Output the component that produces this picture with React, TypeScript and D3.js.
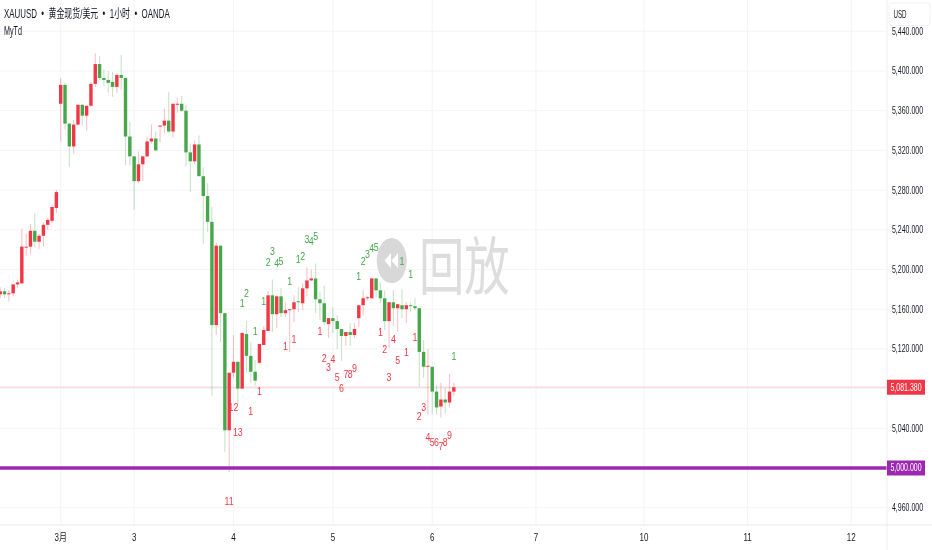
import React from "react";
import * as d3 from "d3";

const W = 932, H = 550;
const opens = [5175,5178,5175,5176,5185,5186,5222,5223,5239,5228,5234,5245,5249,5262,5367,5386,5347,5324,5346,5366,5355,5365,5387,5407,5393,5391,5389,5384,5396,5393,5334,5314,5289,5306,5314,5329,5332,5344,5345,5350,5339,5366,5367,5360,5318,5309,5326,5294,5274,5248,5144,5224,5156,5038,5096,5107,5080,5135,5113,5097,5106,5124,5138,5174,5155,5173,5156,5159,5160,5168,5166,5181,5189,5191,5170,5166,5145,5151,5148,5140,5133,5137,5134,5151,5164,5171,5171,5191,5179,5171,5148,5167,5161,5164,5160,5164,5163,5161,5117,5102,5102,5077,5062,5069,5066,5077];
const highs = [5182,5181,5179,5185,5190,5241,5236,5246,5257,5236,5247,5252,5265,5280,5393,5388,5347,5351,5366,5366,5365,5389,5418,5415,5402,5400,5399,5398,5416,5393,5349,5314,5319,5314,5334,5346,5339,5345,5362,5379,5367,5373,5375,5366,5327,5330,5335,5303,5287,5263,5227,5224,5156,5096,5134,5107,5137,5148,5127,5109,5125,5143,5178,5190,5174,5181,5167,5160,5174,5182,5186,5202,5200,5206,5177,5184,5151,5162,5154,5140,5137,5146,5146,5164,5179,5173,5191,5191,5187,5179,5167,5179,5165,5180,5167,5167,5171,5161,5129,5120,5102,5084,5086,5081,5095,5086];
const lows = [5171,5171,5168,5173,5182,5186,5214,5215,5222,5221,5223,5240,5247,5257,5329,5341,5303,5317,5345,5345,5340,5364,5384,5391,5385,5378,5374,5378,5381,5305,5305,5260,5287,5289,5313,5327,5319,5328,5337,5338,5333,5358,5359,5304,5278,5306,5294,5226,5238,5073,5134,5127,5016,4996,5091,5065,5080,5096,5086,5083,5105,5124,5138,5137,5141,5152,5152,5117,5147,5157,5159,5173,5188,5156,5149,5144,5131,5136,5120,5108,5123,5123,5131,5142,5154,5169,5171,5172,5166,5139,5121,5143,5137,5151,5146,5157,5159,5082,5091,5054,5054,5054,5051,5055,5061,5072];
const closes = [5178,5175,5176,5185,5187,5223,5223,5239,5228,5234,5245,5250,5263,5278,5386,5347,5324,5346,5366,5355,5365,5387,5407,5393,5391,5388,5384,5396,5393,5334,5314,5289,5306,5314,5329,5332,5320,5345,5350,5339,5367,5367,5360,5318,5309,5326,5294,5274,5248,5144,5224,5156,5038,5096,5107,5080,5136,5113,5097,5088,5125,5139,5174,5155,5173,5156,5159,5160,5167,5167,5181,5189,5191,5170,5166,5147,5151,5148,5140,5133,5137,5134,5140,5164,5171,5172,5191,5179,5171,5148,5167,5161,5165,5160,5164,5163,5161,5117,5102,5103,5077,5061,5069,5066,5077,5081.38];

const greenLabels: [number, number, string][] = [[56,5166,"1"],[57,5176,"2"],[61,5168,"1"],[59,5138,"1"],[62,5207,"2"],[63,5219,"3"],[64,5206,"4"],[65,5208,"5"],[67,5188,"1"],[69,5210,"1"],[70,5213,"2"],[71,5231,"3"],[72,5229,"4"],[73,5234,"5"],[83,5193,"1"],[84,5208,"2"],[85,5215,"3"],[86,5222,"4"],[87,5223,"5"],[93,5208,"1"],[95,5195,"1"],[105,5113,"1"]];
const redLabels: [number, number, string][] = [[66,5123,"1"],[68,5130,"1"],[74,5138,"1"],[75,5111,"2"],[76,5102,"3"],[77,5110,"4"],[78,5092,"5"],[79,5080,"6"],[80,5095,"7"],[81,5095,"8"],[82,5101,"9"],[88,5137,"1"],[89,5120,"2"],[90,5092,"3"],[91,5130,"4"],[92,5109,"5"],[94,5117,"1"],[96,5132,"1"],[97,5052,"2"],[98,5061,"3"],[99,5031,"4"],[100,5026,"5"],[101,5026,"6"],[102,5022,"7"],[103,5026,"8"],[104,5033,"9"],[60,5077,"1"],[58,5057,"1"],[54,5061,"12"],[55,5036,"13"],[53,4967,"11"]];

const priceTicks = [5440,5400,5360,5320,5280,5240,5200,5160,5120,5040,4960];
const allGridPrices = [5440,5400,5360,5320,5280,5240,5200,5160,5120,5080,5040,5000,4960];
const timeTickBars = [14,31,54,77,100,124,149,173,197];
const timeTickLabels = ["3月","3","4","5","6","7","10","11","12"];
const titleText = "XAUUSD\u00A0\u00A0•\u00A0\u00A0黄金现货/美元\u00A0\u00A0•\u00A0\u00A01小时\u00A0\u00A0•\u00A0\u00A0OANDA";
const lastPrice = 5081.38;
const levelPrice = 5000;

const UP = "#f23645", DOWN = "#46a74b", PURPLE = "#9c27b0", INK = "#131722";
const FONT = "'Liberation Sans','Noto Sans CJK SC',sans-serif";
const fmt = d3.format(",.3f");

const x = d3.scaleLinear().domain([0, 197]).range([0.22, 851.3]);
const y = d3.scaleLinear().domain([5000, 5440]).range([468, 31.3]);
const AXIS_X = 887, PANE_B = 525, BODY_W = 3.4;

function Txt({ px, py, size, sx = 0.7, anchor = "middle", fill = INK, children }: any) {
  return (
    <text transform={`translate(${px},${py}) scale(${sx},1)`} fontSize={size} fill={fill} textAnchor={anchor}
      dominantBaseline="central" fontFamily={FONT}>{children}</text>
  );
}

export default function App() {
  const n = d3.range(opens.length);
  return (
    <svg width={W} height={H} style={{ position: "fixed", left: 0, top: 0, filter: "blur(0.3px)", background: "#fff" }}>
      <rect width={W} height={H} fill="#fff" />
      {allGridPrices.map((p) => <line key={p} x1={0} x2={AXIS_X} y1={y(p)} y2={y(p)} stroke="#f4f4f5" />)}
      {timeTickBars.map((b) => <line key={b} x1={x(b)} x2={x(b)} y1={0} y2={PANE_B} stroke="#f4f4f5" />)}

      <ellipse cx={391.7} cy={260.7} rx={15} ry={22.6} fill="#d8d8d8" />
      <path d="M391 253 L384.5 260.7 L391 268 Z M398 253 L391.5 260.7 L398 268 Z" fill="#fff" />
      <text transform="translate(419,289) scale(0.72,1)" fontSize={63} fill="#dddddd" fontFamily="'Noto Sans CJK SC',sans-serif">回放</text>

      <line x1={0} x2={AXIS_X} y1={y(lastPrice)} y2={y(lastPrice)} stroke="#f8c9cd" />

      {n.map((i) => {
        const up = closes[i] >= opens[i];
        const c = up ? UP : DOWN;
        const top = y(Math.max(opens[i], closes[i]));
        const bot = y(Math.min(opens[i], closes[i]));
        return (
          <g key={i}>
            <line x1={x(i)} x2={x(i)} y1={y(highs[i])} y2={y(lows[i])} stroke={c} strokeOpacity={0.3} strokeWidth={1.1} />
            <rect x={x(i) - BODY_W / 2} y={top} width={BODY_W} height={Math.max(bot - top, 1)} fill={c} />
          </g>
        );
      })}

      <line x1={0} x2={AXIS_X} y1={y(levelPrice)} y2={y(levelPrice)} stroke={PURPLE} strokeWidth={3.6} />

      {greenLabels.map(([b, p, t], k) => <Txt key={k} px={x(b)} py={y(p)} size={11} sx={0.8} fill={DOWN}>{t}</Txt>)}
      {redLabels.map(([b, p, t], k) => <Txt key={k} px={x(b)} py={y(p)} size={11} sx={0.8} fill={UP}>{t}</Txt>)}

      <line x1={AXIS_X} x2={AXIS_X} y1={0} y2={H} stroke="#eeeff1" />
      <line x1={0} x2={W} y1={PANE_B} y2={PANE_B} stroke="#e8e9ec" />

      <Txt px={4} py={14} size={12} sx={0.66} anchor="start">{titleText}</Txt>
      <Txt px={4} py={31} size={12} sx={0.6} anchor="start">MyTd</Txt>

      {priceTicks.map((p) => <Txt key={p} px={907.5} py={y(p)} size={10}>{fmt(p)}</Txt>)}

      <rect x={889} y={3} width={41} height={22.5} rx={3} fill="#fff" stroke="#f1f1f3" />
      <Txt px={900} py={14} size={10} sx={0.62}>USD</Txt>

      <rect x={AXIS_X} y={y(lastPrice) - 7.5} width={38} height={15} fill={UP} />
      <Txt px={906} py={y(lastPrice)} size={10} fill="#fff">{fmt(lastPrice)}</Txt>
      <rect x={AXIS_X} y={y(levelPrice) - 7.5} width={38} height={15} fill={PURPLE} />
      <Txt px={906} py={y(levelPrice)} size={10} fill="#fff">{fmt(levelPrice)}</Txt>

      {timeTickBars.map((b, k) => <Txt key={b} px={x(b)} py={537.5} size={10} sx={0.8}>{timeTickLabels[k]}</Txt>)}
    </svg>
  );
}
